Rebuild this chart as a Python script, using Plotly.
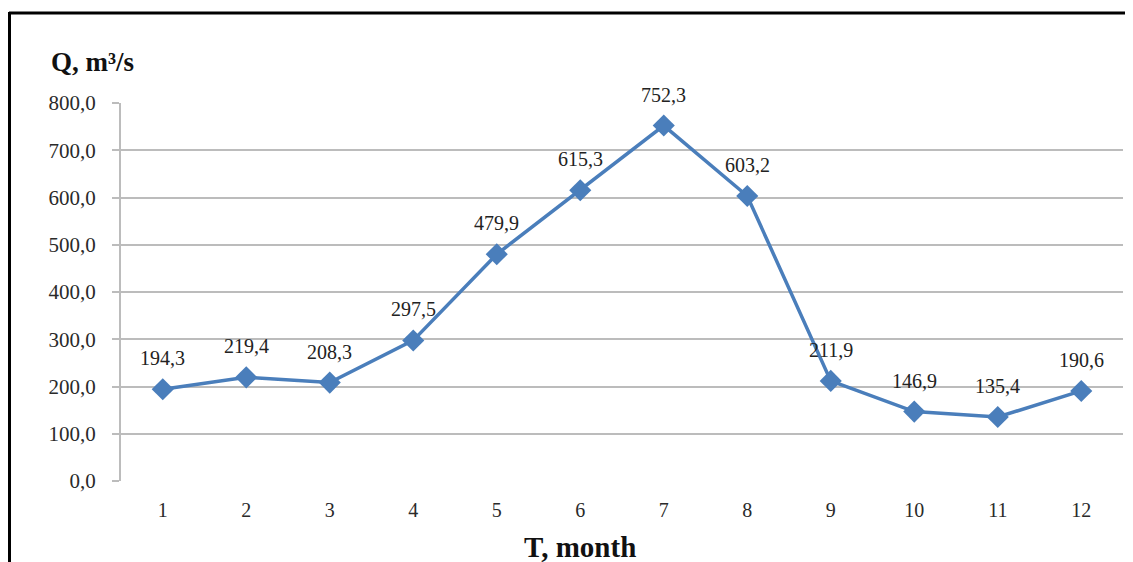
import plotly.graph_objects as go

months = [1, 2, 3, 4, 5, 6, 7, 8, 9, 10, 11, 12]
flow = [194.3, 219.4, 208.3, 297.5, 479.9, 615.3, 752.3, 603.2, 211.9, 146.9, 135.4, 190.6]
y_ticks = [0, 100, 200, 300, 400, 500, 600, 700, 800]

# page is rendered with an 8px body margin, so work in page pixels and offset
OFF = 8
W, H = 1133 - OFF, 562 - OFF
PL, PR, PT, PB = 121, 1123, 103, 481  # plot area in page pixels
L = PL - OFF
T = PT - OFF
R = W - (PR - OFF)
B = H - (PB - OFF)
pw, ph = W - L - R, H - T - B

def px(x):
    return (x - OFF - L) / pw

def py(y):
    return (H - B - (y - OFF)) / ph

serif = "Liberation Serif"

fig = go.Figure()
fig.add_trace(go.Scatter(
    x=months, y=flow, mode="lines+markers",
    line=dict(color="#4a7ebb", width=3.5),
    marker=dict(symbol="diamond", size=17, color="#4a7ebb"),
    showlegend=False, hoverinfo="skip",
))

for m, v in zip(months, flow):
    fig.add_annotation(
        x=m, y=v, text=f"{v:.1f}".replace(".", ","), showarrow=False,
        yshift=31, xanchor="center", yanchor="middle",
        font=dict(family=serif, size=20, color="#222222"),
    )

fig.add_annotation(xref="paper", yref="paper", x=px(49), y=py(62), text="Q, m³/s",
                   showarrow=False, xanchor="left", yanchor="middle",
                   font=dict(family=serif, size=27, color="#111111", weight="bold"))
fig.add_annotation(xref="paper", yref="paper", x=px(580), y=py(547), text="T, month",
                   showarrow=False, xanchor="center", yanchor="middle",
                   font=dict(family=serif, size=29, color="#111111", weight="bold"))

# frame lines
fig.add_shape(type="line", xref="paper", yref="paper", x0=px(9), x1=px(1140), y0=py(13), y1=py(13),
              line=dict(color="black", width=3))
fig.add_shape(type="line", xref="paper", yref="paper", x0=px(9.5), x1=px(9.5), y0=py(12), y1=py(570),
              line=dict(color="black", width=3))

fig.update_layout(
    width=W, height=H, margin=dict(l=L, r=R, t=T, b=B),
    paper_bgcolor="white", plot_bgcolor="white",
    separators=",.",
    font=dict(family=serif, size=20, color="#333333"),
    xaxis=dict(range=[0.5, 12.5], tickmode="array", tickvals=months, ticktext=[str(m) for m in months],
               showgrid=False, zeroline=False, showline=False, ticks="", ticklabelstandoff=15,
               tickfont=dict(family=serif, size=20, color="#2a2a2a")),
    yaxis=dict(range=[0, 800], tickmode="array", tickvals=y_ticks, tickformat=".1f",
               showgrid=True, gridcolor="#bcbcbc", gridwidth=2, zeroline=False,
               showline=True, linecolor="#bcbcbc", linewidth=2,
               ticks="outside", ticklen=7, tickcolor="#bcbcbc", tickwidth=2,
               ticklabelstandoff=12,
               tickfont=dict(family=serif, size=21, color="#2a2a2a")),
)

fig.write_html("out.html")
